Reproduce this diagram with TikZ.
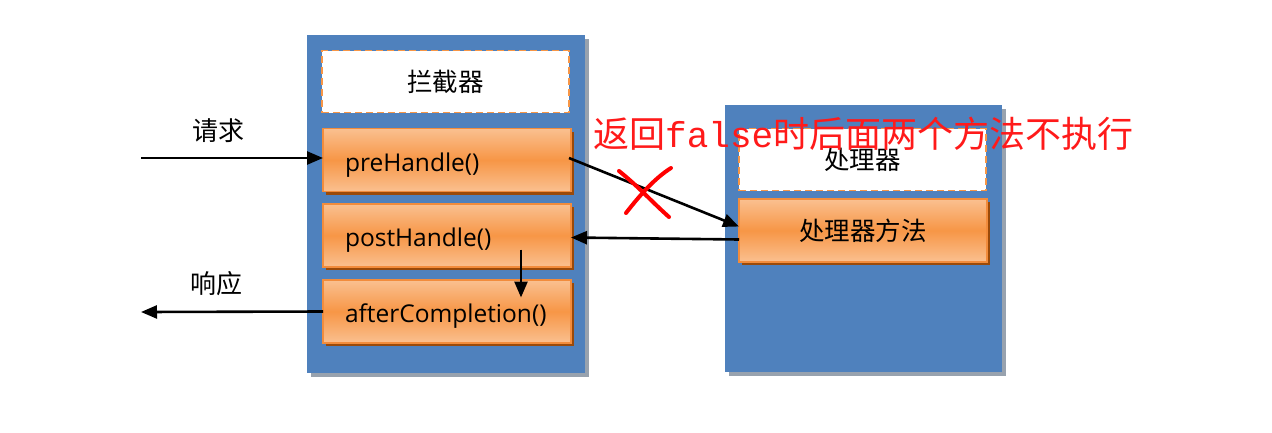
\documentclass[tikz,border=0pt]{standalone}
\usepackage{fontspec}
\setmainfont{Open Sans}
\newfontfamily\cjk{Noto Sans CJK SC}
\newfontfamily\monof{Liberation Mono}
\usetikzlibrary{arrows.meta,shadows}
\definecolor{panelblue}{HTML}{4F81BD}
\definecolor{panelshadow}{HTML}{98A2AE}
\definecolor{orangemid}{HTML}{F79646}
\definecolor{orangelight}{HTML}{FAC090}
\definecolor{orangeedge}{HTML}{F28C3C}
\definecolor{brownshadow}{HTML}{9A4A0A}
\definecolor{redtext}{HTML}{FF1A1A}
\tikzset{
  panel/.style={draw=none,fill=panelblue,inner sep=0,outer sep=0,
    drop shadow={shadow xshift=4pt,shadow yshift=-4pt,fill=panelshadow,opacity=1}},
  dashbox/.style={draw=orangemid,dashed,dash pattern=on 7pt off 4pt,line width=1.8pt,fill=white,
    minimum width=247pt,minimum height=62pt,inner sep=0,outer sep=0,
    font=\cjk\fontsize{25.5}{30}\selectfont},
  methodbox/.style={draw=orangeedge,line width=1.2pt,
    top color=orangelight,bottom color=orangelight,middle color=orangemid,
    minimum width=248pt,minimum height=63pt,outer sep=0,
    drop shadow={shadow xshift=3pt,shadow yshift=-3pt,fill=brownshadow,opacity=1}},
  lefttext/.style={text width=204pt,align=left,inner xsep=22pt,inner ysep=2pt,
    text height=26pt,text depth=4pt,
    font=\fontsize{24.5}{28}\selectfont},
  cjklabel/.style={font=\cjk\fontsize{26}{30}\selectfont,inner sep=0},
  conn/.style={line width=2.6pt,-{Triangle[length=16pt,width=13pt]}},
}
\begin{document}
\begin{tikzpicture}[x=1pt,y=-1pt]
\useasboundingbox (0,0) rectangle (1272,432);
% panels
\node[panel,minimum width=278pt,minimum height=338pt] (lp) at (446,204) {};
\node[panel,minimum width=277pt,minimum height=267pt] (rp) at (863.5,238.5) {};
% interceptor
\node[dashbox] (ic) at (445.5,81.5) {拦截器};
\node[methodbox,lefttext] (pre) at (447,160) {preHandle()};
\node[methodbox,lefttext] (post) at (447,235.5) {postHandle()};
\node[methodbox,lefttext] (after) at (447,311.5) {afterCompletion()};
% handler
\node[dashbox] (hd) at (862.5,159.5) {处理器};
\node[methodbox,font=\cjk\fontsize{25.5}{30}\selectfont] (hm) at (863,230.5) {处理器方法};
% outside
\coordinate (reqstart) at (141,158);
\coordinate (respend) at (141,312);
\node[cjklabel] (reqlbl) at (218,131) {请求};
\node[cjklabel] (resplbl) at (216,284) {响应};
\draw[conn] (reqstart) -- ([yshift=2pt]pre.west);
\draw[conn] (after.west) -- (respend);
\draw[conn] ([xshift=-2pt,yshift=2pt]pre.east) -- ([yshift=4pt]hm.west);
\draw[conn] ([yshift=-9pt]hm.west) -- ([yshift=-2pt]post.east);
\draw[conn] ([xshift=74pt,yshift=-14pt]post.center) -- ([xshift=74pt,yshift=14pt]after.center);
% red note
\node[anchor=west,inner sep=0,text=redtext,font=\cjk\fontsize{36}{40}\selectfont] (note) at (593,134)
  {返回{\monof false}时后面两个方法不执行};
\coordinate (xa1) at (619,171);
\coordinate (xa2) at (669,217);
\coordinate (xb1) at (671,168);
\coordinate (xb2) at (626,213);
\draw[red,line width=4pt,line cap=round] (xa1) .. controls (640,188) and (650,200) .. (xa2);
\draw[red,line width=4pt,line cap=round] (xb1) .. controls (655,178) and (640,195) .. (xb2);
\end{tikzpicture}
\end{document}
